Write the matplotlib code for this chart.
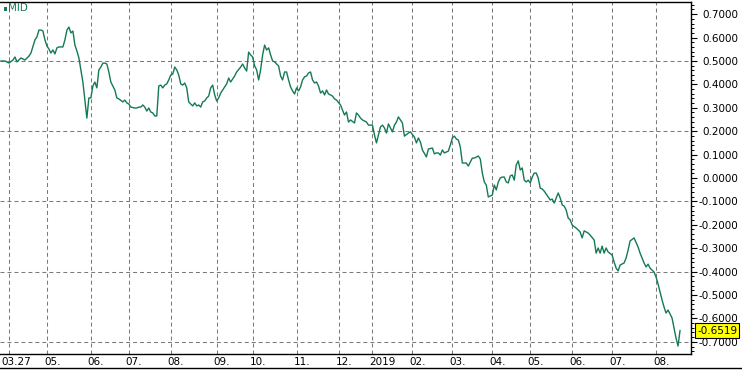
import matplotlib
matplotlib.use('Agg')
import matplotlib.pyplot as plt
from matplotlib.patches import Rectangle
from matplotlib.lines import Line2D
from matplotlib.ticker import MultipleLocator
from matplotlib.transforms import ScaledTranslation

# trading-day index (0 = 2018-03-27) and MID value
day = [0, 2, 4, 6, 7, 8, 10, 12, 14, 15, 17, 18, 19, 20, 21, 22, 23, 24, 25, 26,
       27, 28, 29, 31, 32, 33, 34, 35, 36, 37, 38, 39, 40, 41, 42, 43, 44, 45, 46, 47,
       48, 49, 50, 51, 52, 53, 54, 55, 57, 58, 59, 61, 62, 63, 64, 65, 67, 68, 69, 70,
       71, 72, 73, 74, 75, 76, 77, 78, 79, 80, 81, 82, 83, 84, 85, 86, 87, 88, 89, 90,
       91, 92, 93, 94, 95, 96, 97, 98, 99, 100, 101, 102, 103, 104, 105, 106, 107, 108, 109, 110,
       111, 112, 113, 114, 115, 117, 118, 120, 121, 122, 123, 124, 125, 126, 127, 128, 129, 130, 131, 132,
       133, 134, 135, 136, 137, 138, 139, 140, 141, 142, 143, 144, 145, 146, 147, 148, 149, 150, 151, 152,
       153, 154, 155, 156, 157, 158, 159, 160, 161, 162, 163, 164, 165, 166, 167, 168, 170, 171, 172, 173,
       174, 175, 177, 178, 179, 180, 181, 183, 184, 186, 187, 188, 189, 190, 191, 192, 193, 194, 195, 196,
       197, 198, 199, 200, 201, 202, 204, 205, 207, 208, 209, 210, 211, 213, 214, 216, 217, 218, 219, 220,
       221, 222, 224, 225, 226, 227, 228, 229, 230, 231, 233, 234, 236, 237, 239, 240, 241, 242, 243, 244,
       246, 247, 248, 249, 250, 251, 252, 253, 254, 255, 256, 257, 258, 259, 260, 261, 262, 263, 264, 265,
       266, 267, 268, 269, 270, 271, 272, 274, 275, 276, 277, 278, 279, 280, 281, 282, 283, 284, 285, 286,
       288, 289, 290, 291, 292, 294, 295, 297, 298, 299, 300, 301, 302, 303, 304, 306, 307, 308, 309, 310,
       312, 313, 314, 315, 317, 319, 320, 321, 322, 323, 324, 325, 327, 328, 329, 330, 331, 332, 333, 334,
       335, 336, 337, 338, 339, 340]
mid = [0.500, 0.500, 0.491, 0.504, 0.517, 0.496, 0.513, 0.504, 0.521, 0.534, 0.590, 0.603, 0.632, 0.632, 0.628, 0.590, 0.564, 0.551, 0.534, 0.547,
       0.530, 0.556, 0.560, 0.560, 0.590, 0.632, 0.645, 0.620, 0.628, 0.568, 0.543, 0.513, 0.462, 0.410, 0.333, 0.256, 0.342, 0.342, 0.393, 0.410,
       0.385, 0.462, 0.474, 0.491, 0.491, 0.487, 0.453, 0.410, 0.376, 0.342, 0.338, 0.325, 0.333, 0.321, 0.316, 0.303, 0.299, 0.299, 0.303, 0.303,
       0.312, 0.303, 0.286, 0.299, 0.282, 0.278, 0.265, 0.265, 0.393, 0.397, 0.385, 0.397, 0.402, 0.419, 0.440, 0.444, 0.474, 0.462, 0.440, 0.402,
       0.397, 0.406, 0.385, 0.325, 0.316, 0.308, 0.321, 0.308, 0.312, 0.303, 0.325, 0.329, 0.342, 0.350, 0.385, 0.397, 0.355, 0.329, 0.342, 0.363,
       0.376, 0.389, 0.402, 0.427, 0.410, 0.436, 0.453, 0.474, 0.487, 0.470, 0.457, 0.538, 0.526, 0.517, 0.479, 0.462, 0.419, 0.462, 0.526, 0.568,
       0.547, 0.556, 0.526, 0.500, 0.496, 0.487, 0.479, 0.436, 0.419, 0.453, 0.453, 0.419, 0.389, 0.372, 0.359, 0.385, 0.372, 0.389, 0.419, 0.432,
       0.436, 0.449, 0.453, 0.419, 0.406, 0.410, 0.393, 0.363, 0.372, 0.355, 0.376, 0.359, 0.355, 0.350, 0.338, 0.333, 0.312, 0.291, 0.269, 0.282,
       0.239, 0.248, 0.235, 0.278, 0.269, 0.256, 0.248, 0.239, 0.226, 0.226, 0.184, 0.150, 0.184, 0.218, 0.226, 0.214, 0.192, 0.231, 0.214, 0.197,
       0.226, 0.239, 0.261, 0.248, 0.235, 0.179, 0.192, 0.197, 0.175, 0.150, 0.171, 0.154, 0.120, 0.090, 0.124, 0.128, 0.103, 0.107, 0.107, 0.098,
       0.120, 0.107, 0.115, 0.141, 0.171, 0.179, 0.167, 0.162, 0.132, 0.064, 0.064, 0.051, 0.085, 0.085, 0.094, 0.081, 0.021, -0.017, -0.030, -0.081,
       -0.073, -0.030, -0.051, -0.017, 0.000, 0.004, 0.004, -0.017, -0.021, 0.009, 0.013, -0.009, 0.056, 0.073, 0.034, 0.043, -0.009, -0.017, -0.009, -0.021,
       0.004, 0.021, 0.021, 0.000, -0.043, -0.047, -0.056, -0.081, -0.094, -0.090, -0.107, -0.085, -0.064, -0.085, -0.115, -0.120, -0.137, -0.171, -0.179, -0.201,
       -0.214, -0.222, -0.231, -0.256, -0.226, -0.235, -0.244, -0.265, -0.321, -0.299, -0.321, -0.291, -0.321, -0.299, -0.316, -0.329, -0.359, -0.385, -0.397, -0.372,
       -0.363, -0.342, -0.308, -0.269, -0.256, -0.295, -0.321, -0.342, -0.363, -0.380, -0.368, -0.385, -0.402, -0.423, -0.453, -0.487, -0.521, -0.551, -0.577, -0.564,
       -0.581, -0.598, -0.641, -0.684, -0.718, -0.6519]

month_days = [4, 23, 45, 64, 85, 108, 126, 148, 169, 186, 206, 226, 246, 265, 286, 306, 328]
month_labels = ['03.27', '05.', '06.', '07.', '08.', '09.', '10.', '11.', '12.', '2019',
                '02.', '03.', '04.', '05.', '06.', '07.', '08.']
yticks = [-0.7, -0.6, -0.5, -0.4, -0.3, -0.2, -0.1, 0.0, 0.1, 0.2, 0.3, 0.4, 0.5, 0.6, 0.7]
hgrid = [0.5, 0.2, -0.1, -0.4, -0.7]

green = '#137a52'
W, H = 742, 370

fig = plt.figure(figsize=(W / 100, H / 100), dpi=100)
ax = fig.add_axes([0, 16 / H, 691 / W, 352 / H])

dash = (0, (3.8, 2.9))
for v in hgrid:
    ax.axhline(v, color='#7a7a7a', lw=0.75, ls=dash, zorder=1)
for d in month_days:
    ax.axvline(d, color='#7a7a7a', lw=0.75, ls=dash, zorder=1)

ax.plot(day, mid, color=green, lw=1.0, zorder=3)

ax.set_xlim(-0.5, 345.5)
ax.set_ylim(-0.752, 0.752)

# x labels
ax.set_xticks(month_days)
ax.set_xticklabels(month_labels, fontsize=7.5, ha='left')
ax.tick_params(axis='x', length=0, pad=2)
for i, lab in enumerate(ax.get_xticklabels()):
    shift = -8 if i == 0 else -3
    lab.set_transform(lab.get_transform() + ScaledTranslation(shift / 100, 0, fig.dpi_scale_trans))

# y axis on right
ax.yaxis.tick_right()
ax.set_yticks(yticks)
ax.set_yticklabels([f'{(0.0 if abs(v) < 1e-9 else v):.4f}' for v in yticks],
                   fontsize=7.5, ha='right')
ax.yaxis.set_minor_locator(MultipleLocator(0.02))
ax.tick_params(axis='y', which='major', length=4, width=0.8, direction='out', pad=29.8)
ax.tick_params(axis='y', which='minor', length=2, width=0.7, direction='out')

ax.spines['left'].set_visible(False)
for s in ['top', 'right', 'bottom']:
    ax.spines[s].set_linewidth(1.0)
    ax.spines[s].set_color('black')

# last value box
ax.annotate(f'{mid[-1]:.4f}', xy=(1, mid[-1]), xycoords=('axes fraction', 'data'),
            xytext=(6, 0), textcoords='offset pixels', ha='left', va='center',
            fontsize=7.5, color='black', zorder=5,
            bbox=dict(boxstyle='square,pad=0.2', fc='#ffff00', ec='black', lw=0.8))

# legend-like label
fig.add_artist(Rectangle((4 / W, 1 - 11 / H), 3 / W, 4 / H, transform=fig.transFigure,
                         color=green, lw=0))
fig.text(8 / W, 1 - 3 / H, 'MID', color=green, fontsize=7.5, va='top', ha='left')

# bottom frame line
fig.add_artist(Line2D([0, 1], [1 - 368 / H, 1 - 368 / H], transform=fig.transFigure,
                      color='black', lw=1.0))

fig.savefig('out.png', dpi=100)
